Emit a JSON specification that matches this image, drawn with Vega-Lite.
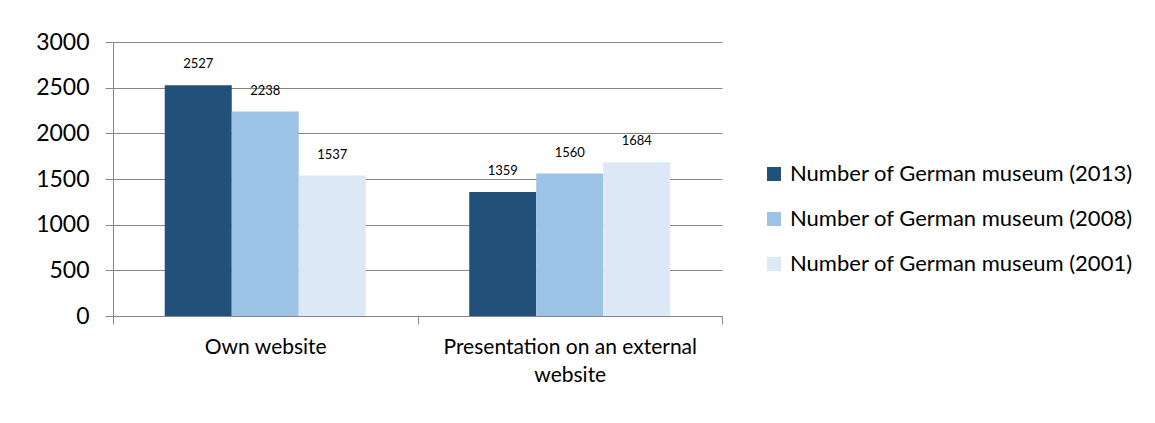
{
  "$schema": "https://vega.github.io/schema/vega-lite/v6.json",
  "width": 609,
  "height": 274,
  "autosize": {"type": "none"},
  "padding": {"left": 113, "top": 42, "right": 433, "bottom": 107},
  "background": "white",
  "config": {
    "font": "Lato",
    "view": {"stroke": null},
    "axis": {
      "domainColor": "#868686",
      "tickColor": "#868686",
      "gridColor": "#868686",
      "labelColor": "#000000",
      "tickSize": 8,
      "domainWidth": 1,
      "gridWidth": 1
    }
  },
  "data": {
    "values": [
      {"cat": "Own website", "series": "Number of German museum (2013)", "value": 2527},
      {"cat": "Own website", "series": "Number of German museum (2008)", "value": 2238},
      {"cat": "Own website", "series": "Number of German museum (2001)", "value": 1537},
      {"cat": "Presentation on an external website", "series": "Number of German museum (2013)", "value": 1359},
      {"cat": "Presentation on an external website", "series": "Number of German museum (2008)", "value": 1560},
      {"cat": "Presentation on an external website", "series": "Number of German museum (2001)", "value": 1684}
    ]
  },
  "encoding": {
    "x": {
      "field": "cat",
      "type": "nominal",
      "sort": null,
      "scale": {"paddingInner": 0, "paddingOuter": 0},
      "axis": {
        "title": null,
        "labelAngle": 0,
        "labelFontSize": 21,
        "labelPadding": 12,
        "labelLimit": 600,
        "tickBand": "extent",
        "labelExpr": "datum.value == 'Presentation on an external website' ? ['Presentation on an external', 'website'] : datum.value",
        "labelLineHeight": 28,
        "labelBaseline": "top"
      }
    },
    "xOffset": {
      "field": "series",
      "sort": ["Number of German museum (2013)", "Number of German museum (2008)", "Number of German museum (2001)"],
      "scale": {"paddingInner": 0, "paddingOuter": 0.772}
    },
    "y": {
      "field": "value",
      "type": "quantitative",
      "scale": {"domain": [0, 3000]},
      "axis": {
        "title": null,
        "values": [0, 500, 1000, 1500, 2000, 2500, 3000],
        "format": "d",
        "grid": true,
        "labelFontSize": 23,
        "labelPadding": 16
      }
    }
  },
  "layer": [
    {
      "mark": {"type": "bar"},
      "encoding": {
        "color": {
          "field": "series",
          "type": "nominal",
          "sort": ["Number of German museum (2013)", "Number of German museum (2008)", "Number of German museum (2001)"],
          "scale": {"range": ["#215079", "#9dc3e6", "#dce8f5"]},
          "legend": {
            "title": null,
            "orient": "none",
            "legendX": 650,
            "legendY": 121,
            "symbolType": "square",
            "symbolSize": 196,
            "symbolStrokeWidth": 0,
            "labelFontSize": 22,
            "labelColor": "#000000",
            "labelOffset": 5,
            "rowPadding": 23,
            "labelLimit": 500
          }
        }
      }
    },
    {
      "mark": {"type": "text", "dy": -21, "fontSize": 13, "color": "#000000"},
      "encoding": {"text": {"field": "value", "type": "quantitative"}}
    }
  ]
}
